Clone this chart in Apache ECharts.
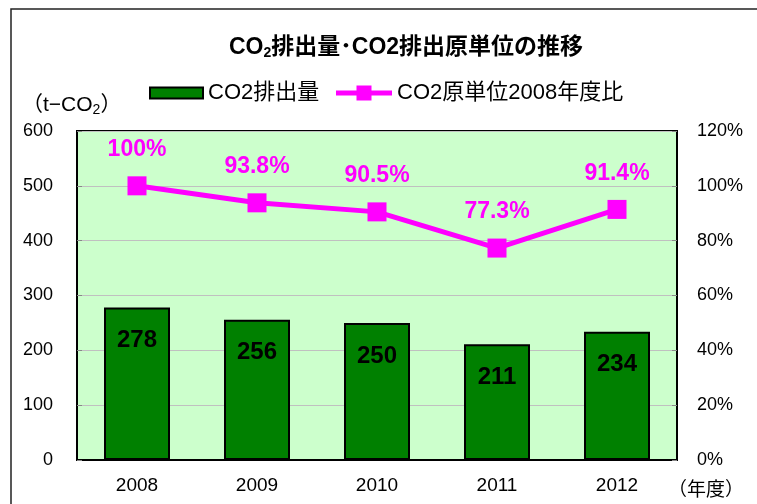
<!DOCTYPE html>
<html>
<head>
<meta charset="utf-8">
<script src="https://cdn.jsdelivr.net/npm/echarts@6/dist/echarts.min.js"></script>
<style>
  html, body { margin: 0; padding: 0; background: #fff; }
  #chart { width: 757px; height: 504px; }
</style>
</head>
<body>
<div id="chart"></div>
<script>
// データ
const years = ['2008', '2009', '2010', '2011', '2012'];
const emissions = [278, 256, 250, 211, 234];
const intensityRatio = [100, 93.8, 90.5, 77.3, 91.4];
const leftTicks = [0, 600, 100];
const rightTicks = [0, 120, 20];

const FONT = '"Liberation Sans", "Noto Sans CJK JP", sans-serif';
// 凡例の折れ線アイコン（線＋四角マーカー）
const LINE_ICON = 'path://M0,5H20.5V0H35.5V5H56V10H35.5V15H20.5V10H0Z';

const chart = echarts.init(document.getElementById('chart'));
chart.setOption({
  animation: false,
  textStyle: { fontFamily: FONT },
  title: {
    text: 'CO{s|2}排出量･CO2排出原単位の推移',
    left: 224,
    top: 30,
    textStyle: {
      fontFamily: FONT,
      fontSize: 23,
      fontWeight: 'bold',
      color: '#000',
      rich: {
        s: { fontFamily: FONT, fontSize: 14, fontWeight: 'bold', color: '#000', verticalAlign: 'bottom', padding: [11, 0, 0, 0] }
      }
    }
  },
  legend: [
    {
      left: 149,
      top: 82,
      padding: 0,
      itemWidth: 53,
      itemHeight: 11,
      textStyle: { fontFamily: FONT, fontSize: 22, color: '#000' },
      data: [
        { name: 'CO2排出量', icon: 'rect', itemStyle: { color: '#008000', borderColor: '#000', borderWidth: 2 } }
      ]
    },
    {
      left: 336,
      top: 82,
      padding: 0,
      itemWidth: 56,
      itemHeight: 15,
      textStyle: { fontFamily: FONT, fontSize: 22, color: '#000' },
      data: [
        { name: 'CO2原単位2008年度比', icon: LINE_ICON, itemStyle: { color: '#ff00ff', borderWidth: 0 } }
      ]
    }
  ],
  grid: {
    left: 77,
    right: 80,
    top: 131,
    bottom: 44,
    show: true,
    backgroundColor: '#ccffcc',
    borderColor: '#000',
    borderWidth: 2
  },
  xAxis: {
    type: 'category',
    data: years,
    axisLine: { lineStyle: { color: '#000', width: 2 } },
    axisTick: { inside: true, length: 5, lineStyle: { color: '#888' } },
    axisLabel: { fontSize: 19, color: '#000', margin: 16 }
  },
  yAxis: [
    {
      type: 'value',
      min: leftTicks[0],
      max: leftTicks[1],
      interval: leftTicks[2],
      axisLine: { show: true, lineStyle: { color: '#000', width: 2 } },
      axisTick: { show: true, inside: true, length: 5, lineStyle: { color: '#888' } },
      axisLabel: { fontSize: 18, color: '#000', margin: 24 },
      splitLine: { lineStyle: { color: '#c0c0c0', width: 1 } }
    },
    {
      type: 'value',
      min: rightTicks[0],
      max: rightTicks[1],
      interval: rightTicks[2],
      axisLine: { show: true, lineStyle: { color: '#000', width: 2 } },
      axisTick: { show: true, inside: true, length: 5, lineStyle: { color: '#888' } },
      axisLabel: { fontSize: 18, color: '#000', margin: 20, formatter: '{value}%' },
      splitLine: { show: false }
    }
  ],
  series: [
    {
      name: 'CO2排出量',
      type: 'bar',
      data: emissions,
      barWidth: 66,
      itemStyle: { color: '#008000', borderColor: '#000', borderWidth: 2 },
      label: {
        show: true,
        position: 'insideTop',
        distance: 21,
        fontSize: 24,
        fontWeight: 'bold',
        color: '#000'
      }
    },
    {
      name: 'CO2原単位2008年度比',
      type: 'line',
      yAxisIndex: 1,
      data: intensityRatio,
      symbol: 'rect',
      symbolSize: 19,
      lineStyle: { color: '#ff00ff', width: 5 },
      itemStyle: { color: '#ff00ff' },
      label: {
        show: true,
        position: 'top',
        distance: 15,
        fontSize: 23,
        fontWeight: 'bold',
        color: '#ff00ff',
        formatter: '{c}%'
      }
    }
  ],
  graphic: [
    {
      type: 'rect',
      shape: { x: 11, y: 9, width: 900, height: 700 },
      style: { fill: 'none', stroke: '#222', lineWidth: 1.5 },
      silent: true
    },
    {
      type: 'text',
      left: 22,
      top: 95,
      style: {
        text: '（t−CO{s|2}）',
        font: '21px ' + FONT,
        fill: '#000',
        rich: {
          s: { fontSize: 14, fontFamily: FONT, fill: '#000', verticalAlign: 'bottom', padding: [9, 0, 0, 0] }
        }
      }
    },
    {
      type: 'text',
      left: 668,
      top: 481,
      style: {
        text: '（年度）',
        font: '19px ' + FONT,
        fill: '#000'
      }
    }
  ]
});
</script>
</body>
</html>
